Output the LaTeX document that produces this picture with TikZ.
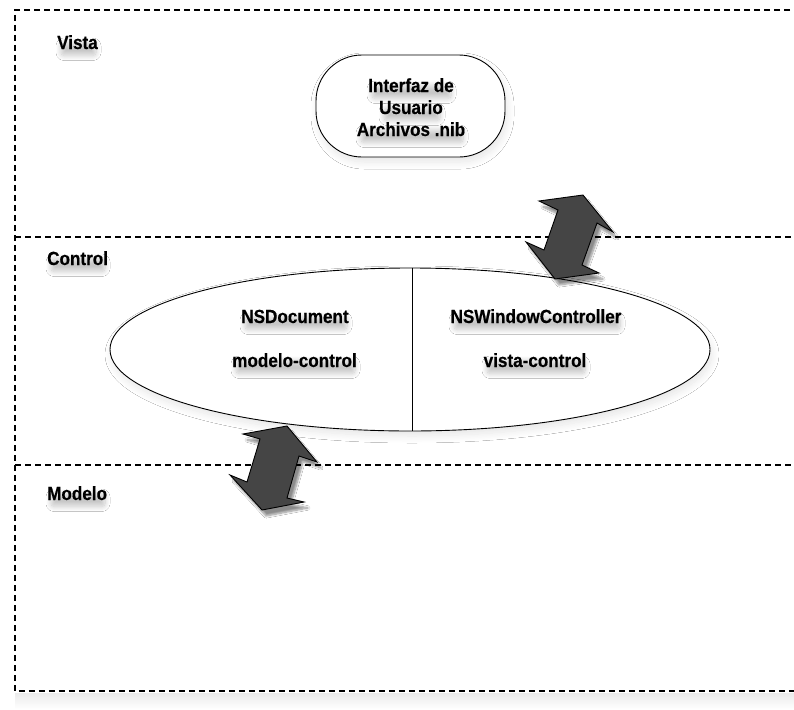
\documentclass[tikz,border=0pt]{standalone}
\usepackage{fontspec}
\setmainfont[FakeStretch=0.9,FakeBold=0.4]{Liberation Sans}
\usetikzlibrary{shapes.geometric,shadows.blur}
\begin{document}
\begin{tikzpicture}[x=1pt,y=-1pt,
  lane/.style={dashed,dash pattern=on 6pt off 4pt,line width=1.1pt},
  txt/.style={font=\bfseries\fontsize{19}{22}\selectfont,align=center,inner sep=0pt},
  hazy/.style={rounded corners=3pt,blur shadow={shadow xshift=1pt,shadow yshift=-4pt,shadow opacity=22,shadow blur steps=10,shadow blur radius=5pt}},
  soft/.style={blur shadow={shadow xshift=2pt,shadow yshift=-5pt,shadow opacity=10,shadow blur steps=12,shadow blur radius=7pt}},
  swap/.style={fill=black!73,draw=black,line width=0.9pt,line join=miter,
    blur shadow={shadow xshift=4pt,shadow yshift=-6pt,shadow opacity=45,shadow blur steps=8}}]
\useasboundingbox (0,0) rectangle (794,709);
\clip (0,0) rectangle (794,709);
\fill[white] (0,0) rectangle (794,709);
% faint shadow under the frame
\shade[top color=black!8,bottom color=white] (15,693) rectangle (800,709);

% frame and lane separators
\draw[lane] (800,10) -- (15,10) -- (15,691) -- (800,691);
\draw[lane] (15,237) -- (800,237);
\draw[lane] (15,465) -- (800,465);

% view layer: user interface
\node[draw,line width=0.9pt,fill=white,rounded corners=46pt,minimum width=189pt,minimum height=102pt,
      soft] (ui) at (410.5,106) {};

% control layer
\node[draw,ellipse,line width=0.9pt,fill=white,minimum width=600pt,minimum height=163pt,inner sep=0pt,soft]
  (ctl) at (410,349.5) {};
\draw[line width=0.9pt] (ctl.north -| 412,0) -- (ctl.south -| 412,0);

% soft shadows beneath the texts (left, right, baseline)
\foreach \l/\r/\b in {57/98/49, 47/107/265, 47/107/500,
    368/453/92, 380/442/114, 357/465/136,
    241/349/323, 232/357/367, 450/622/323, 483/587/367}
  \path[hazy] (\l+3,\b+2.5) rectangle (\r-3,\b-10);

% lane titles
\node[txt,anchor=base west] (vista)   at (57,49)  {Vista};
\node[txt,anchor=base west] (control) at (47,265) {Control};
\node[txt,anchor=base west] (modelo)  at (47,500) {Modelo};

% user interface text
\node[txt,anchor=base] (ui1) at (411,92)  {Interfaz de};
\node[txt,anchor=base] (ui2) at (411,114) {Usuario};
\node[txt,anchor=base] (ui3) at (411,136) {Archivos .nib};

% controller texts
\node[txt,anchor=base] (doc)  at (295,323)   {NSDocument};
\node[txt,anchor=base] (docr) at (294.5,367) {modelo-control};
\node[txt,anchor=base] (win)  at (536,323)   {NSWindowController};
\node[txt,anchor=base] (winr) at (535,367)   {vista-control};

% double arrows between layers
\draw[swap] (539,201) -- (583,195) -- (613,232) -- (597,223) -- (582,265) -- (599,273)
  -- (555,279) -- (526,242) -- (544,250) -- (558,210) -- cycle;
\draw[swap] (243,434) -- (287,426) -- (317,462) -- (299,456) -- (287,498) -- (304,502)
  -- (262,510) -- (230,475) -- (247,482) -- (260,439) -- cycle;
\end{tikzpicture}
\end{document}
